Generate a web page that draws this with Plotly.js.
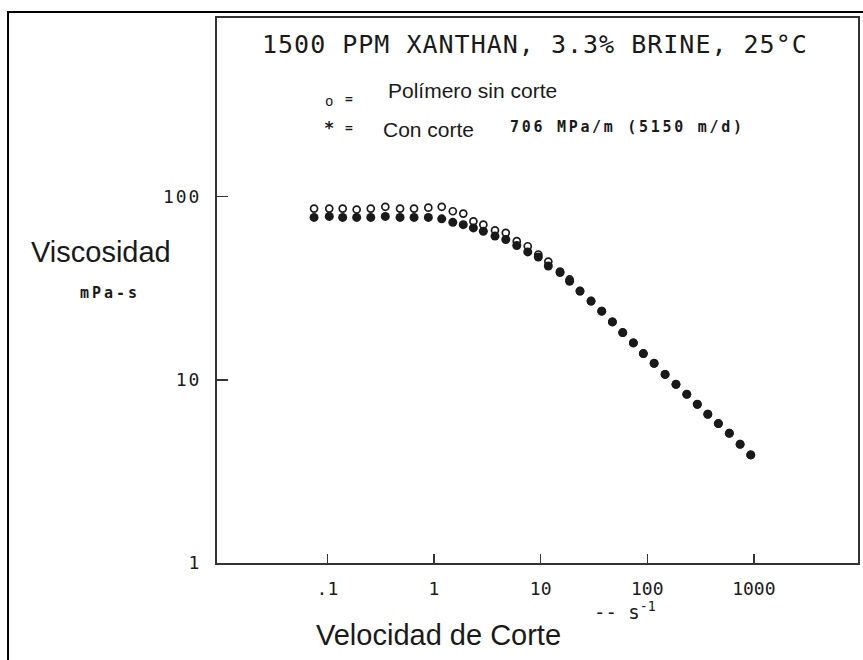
<!DOCTYPE html>
<html>
<head>
<meta charset="utf-8">
<script src="https://cdn.plot.ly/plotly-3.0.1.min.js"></script>
<style>
  html, body { margin: 0; padding: 0; background: #fff; }
  #chart { width: 863px; height: 660px; }
</style>
</head>
<body>
<div id="chart"></div>
<script>
// Shear rate (1/s) at which viscosity was measured
const shearRate = [0.0749, 0.104, 0.139, 0.188, 0.255, 0.349, 0.480, 0.649, 0.884,
  1.18, 1.50, 1.88, 2.34, 2.90, 3.73, 4.71, 5.97, 7.57, 9.51, 11.8, 15.2, 18.7,
  23.4, 29.7, 37.4, 47.1, 58.9, 74.1, 91.9, 116, 147, 186, 235, 295, 370, 465, 589, 743, 935];

// Viscosity (mPa-s) of the unsheared polymer
const viscSinCorte = [86, 86, 86, 85, 86, 88, 86, 86, 87,
  88, 83.2, 80.8, 73.3, 70.3, 65.5, 63.4, 57.1, 53.6, 48.3, 44.2, 39.0, 35.3,
  30.5, 26.9, 23.7, 20.7, 18.1, 15.9, 13.9, 12.3, 10.7, 9.45, 8.34, 7.35, 6.49, 5.77, 5.11, 4.45, 3.89];

// Viscosity (mPa-s) after shearing
const viscConCorte = [77, 78, 77, 77, 77, 78, 77, 77, 77,
  75.6, 72.4, 70.3, 67.5, 64.7, 60.9, 58.3, 54.1, 49.9, 46.8, 41.8, 38.5, 34.5,
  30.5, 26.9, 23.7, 20.7, 18.1, 15.9, 13.9, 12.3, 10.7, 9.45, 8.34, 7.35, 6.49, 5.77, 5.11, 4.45, 3.89];

const xTickVals = [0.1, 1, 10, 100, 1000];
const xTickText = ['.1', '1', '10', '100', '1000'];
const yTickVals = [1, 10, 100];
const yTickText = ['1', '10', '100'];

const mono = 'DejaVu Sans Mono, monospace';
const sans = 'Liberation Sans, Arial, sans-serif';
const ink = '#1a1a1a';

const spaced = (t, px) => '<span style="letter-spacing:' + px + 'px">' + t + '</span>';

const traces = [
  {
    x: shearRate, y: viscConCorte, type: 'scatter', mode: 'markers', name: 'Con corte',
    marker: { symbol: 'circle', size: 9, color: ink, line: { width: 0 } }
  },
  {
    x: shearRate, y: viscSinCorte, type: 'scatter', mode: 'markers', name: 'Polímero sin corte',
    marker: { symbol: 'circle-open', size: 7, color: ink, line: { width: 1.7, color: ink } }
  }
];

const layout = {
  width: 863, height: 660,
  margin: { l: 217, r: 5, t: 18, b: 97 },
  paper_bgcolor: '#ffffff', plot_bgcolor: '#ffffff',
  showlegend: false,
  xaxis: {
    type: 'log', range: [-2.036, 3.977],
    tickmode: 'array', tickvals: xTickVals, ticktext: xTickText,
    ticks: 'inside', ticklen: 9, tickwidth: 1.5, tickcolor: '#333',
    showline: true, linecolor: '#333', linewidth: 2, mirror: true,
    showgrid: false, zeroline: false,
    ticklabelstandoff: 8,
    tickfont: { family: mono, size: 18, color: ink }
  },
  yaxis: {
    type: 'log', range: [0, 2.975],
    tickmode: 'array', tickvals: yTickVals, ticktext: yTickText.map(t => spaced(t, 2)),
    ticks: 'inside', ticklen: 11, tickwidth: 1.5, tickcolor: '#333',
    showline: true, linecolor: '#333', linewidth: 2, mirror: true,
    showgrid: false, zeroline: false,
    ticklabelstandoff: 10,
    tickfont: { family: mono, size: 18, color: ink }
  },
  shapes: [
    // outer frame (left and top edges)
    { type: 'path', xref: 'paper', yref: 'paper',
      path: 'M -0.326,-0.25 L -0.326,1.011 L 1.02,1.011',
      line: { color: '#000', width: 2 } }
  ],
  annotations: [
    { xref: 'paper', yref: 'paper', x: 0.4961, y: 0.9505, xanchor: 'center', yanchor: 'middle',
      showarrow: false, text: spaced('1500 PPM XANTHAN, 3.3% BRINE, 25°C', 1),
      font: { family: mono, size: 25, color: ink } },
    { xref: 'paper', yref: 'paper', x: 0.1747, y: 0.8477, xanchor: 'center', yanchor: 'middle',
      showarrow: false, text: 'o', font: { family: mono, size: 14, color: ink } },
    { xref: 'paper', yref: 'paper', x: 0.2059, y: 0.8514, xanchor: 'center', yanchor: 'middle',
      showarrow: false, text: '=', font: { family: mono, size: 13, color: ink, weight: 'bold' } },
    { xref: 'paper', yref: 'paper', x: 0.2637, y: 0.8661, xanchor: 'left', yanchor: 'middle',
      showarrow: false, text: 'Polímero sin corte', font: { family: sans, size: 21, color: ink } },
    { xref: 'paper', yref: 'paper', x: 0.1747, y: 0.7982, xanchor: 'center', yanchor: 'middle',
      showarrow: false, text: '*', font: { family: mono, size: 17, color: ink, weight: 'bold' } },
    { xref: 'paper', yref: 'paper', x: 0.2059, y: 0.7982, xanchor: 'center', yanchor: 'middle',
      showarrow: false, text: '=', font: { family: mono, size: 13, color: ink, weight: 'bold' } },
    { xref: 'paper', yref: 'paper', x: 0.2559, y: 0.7945, xanchor: 'left', yanchor: 'middle',
      showarrow: false, text: 'Con corte', font: { family: sans, size: 21, color: ink } },
    { xref: 'paper', yref: 'paper', x: 0.454, y: 0.80, xanchor: 'left', yanchor: 'middle',
      showarrow: false, text: spaced('706 MPa/m (5150 m/d)', 2.7),
      font: { family: mono, size: 15, color: ink, weight: 'bold' } },
    { xref: 'paper', yref: 'paper', x: -0.181, y: 0.5706, xanchor: 'center', yanchor: 'middle',
      showarrow: false, text: 'Viscosidad', font: { family: sans, size: 29, color: ink } },
    { xref: 'paper', yref: 'paper', x: -0.1669, y: 0.4954, xanchor: 'center', yanchor: 'middle',
      showarrow: false, text: spaced('mPa-s', 3), font: { family: mono, size: 15, color: ink, weight: 'bold' } },
    { xref: 'paper', yref: 'paper', x: 0.3448, y: -0.1321, xanchor: 'center', yanchor: 'middle',
      showarrow: false, text: 'Velocidad de Corte', font: { family: sans, size: 29, color: ink } },
    { xref: 'paper', yref: 'paper', x: 0.5850, y: -0.0880, xanchor: 'left', yanchor: 'middle',
      showarrow: false, text: '-- s<sup>-1</sup>', font: { family: mono, size: 19, color: ink } }
  ]
};

Plotly.newPlot('chart', traces, layout, { displayModeBar: false, staticPlot: true });
</script>
</body>
</html>
